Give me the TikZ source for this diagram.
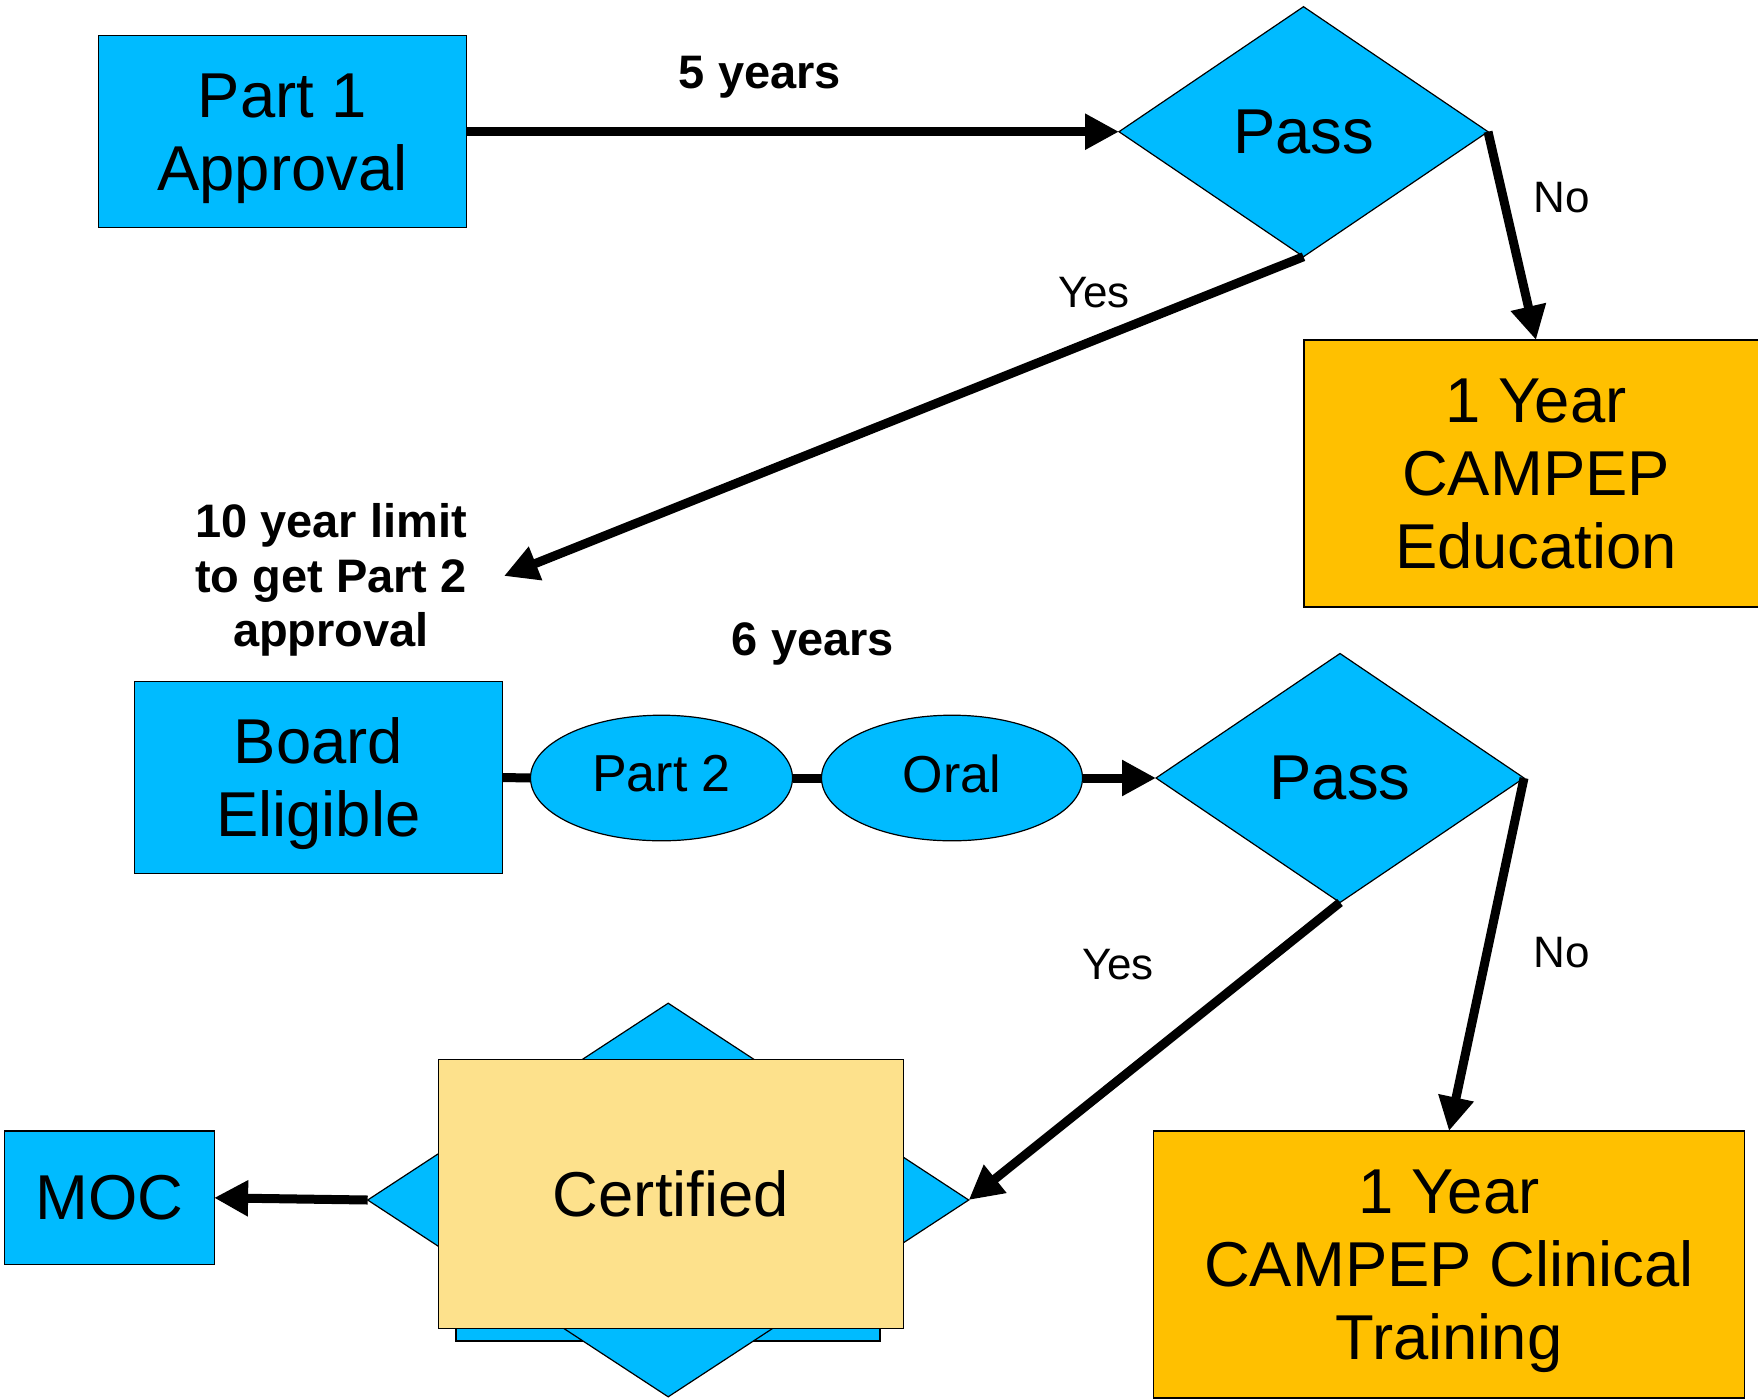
\documentclass[tikz,border=0pt]{standalone}
\usepackage{fontspec}
\setmainfont{Liberation Sans}
\usetikzlibrary{shapes.geometric,arrows.meta}
\definecolor{boxblue}{RGB}{0,187,255}
\definecolor{boxorange}{RGB}{255,192,0}
\definecolor{boxcream}{RGB}{253,225,140}
\begin{document}
\begin{tikzpicture}[x=0.5pt,y=-0.5pt,
    box/.style={draw, line width=0.6pt, inner sep=0pt, outer sep=0pt, align=center,
        text depth=0pt, font=\fontsize{31.7}{36.5}\selectfont},
    bluebox/.style={box, fill=boxblue},
    orangebox/.style={box, fill=boxorange},
    decision/.style={box, diamond, fill=boxblue},
    exam/.style={box, ellipse, fill=boxblue, text depth=4.5pt, font=\fontsize{26}{30}\selectfont},
    note/.style={font=\fontsize{23.5}{27.2}\selectfont\bfseries, align=center, text depth=0pt},
    answer/.style={font=\fontsize{22}{26}\selectfont},
    flow/.style={line width=4.5pt, -{Triangle[length=17pt,width=17pt]}},
    link/.style={line width=4.5pt}]
    \useasboundingbox (0,0) rectangle (1758,1399);
    \node[bluebox, minimum width=183.9pt, minimum height=95.9pt] (part1) at (282.5,131.7) {Part 1\\Approval};
    \node[decision, minimum width=184.5pt, minimum height=125pt] (pass1) at (1303.5,131.7) {Pass};
    \node[orangebox, minimum width=232pt, minimum height=133.5pt] (campep1) at (1536,473.5) {1 Year\\CAMPEP\\Education};
    \node[bluebox, minimum width=183.9pt, minimum height=95.9pt] (board) at (318.4,777.5) {Board\\Eligible};
    \node[exam, minimum width=131pt, minimum height=62.8pt] (part2) at (661.5,778) {Part 2};
    \node[exam, minimum width=130.5pt, minimum height=62.8pt] (oral) at (952,778) {Oral};
    \node[decision, minimum width=184pt, minimum height=124.5pt] (pass2) at (1340,778) {Pass};
    \node[orangebox, minimum width=295.5pt, minimum height=133.5pt] (clinical) at (1449,1264.5) {1 Year\\CAMPEP Clinical\\Training};
    \node[bluebox, minimum width=212pt, minimum height=135.5pt] (certback) at (668,1205.5) {};
    \node[decision, minimum width=300.5pt, minimum height=196.8pt] (certdiamond) at (668.2,1200) {};
    \node[box, fill=boxcream, minimum width=232.6pt, minimum height=134.5pt] (certified) at (671,1194) {Certified};
    \node[bluebox, minimum width=104.8pt, minimum height=66.9pt] (moc) at (109.3,1197.8) {MOC};

    \node[note] (five) at (760,72) {5 years};
    \node[note] (six) at (813,639) {6 years};
    \node[note] (limit) at (331,575) {10 year limit\\to get Part 2\\approval};
    \coordinate (limittip) at (504,576);
    \node[answer] (yes1) at (1094,293) {Yes};
    \node[answer] (no1) at (1562,198) {No};
    \node[answer] (yes2) at (1118,965) {Yes};
    \node[answer] (no2) at (1562,953) {No};

    \draw[flow] (part1.east) -- (pass1.west);
    \draw[flow] (pass1.east) -- (campep1.north);
    \draw[flow] (pass1.south) -- (limittip);
    \draw[link] (board.east) -- (part2.west);
    \draw[link] (part2.east) -- (oral.west);
    \draw[flow] (oral.east) -- (pass2.west);
    \draw[flow] (pass2.east) -- (clinical.north);
    \draw[flow] (pass2.south) -- (certdiamond.east);
    \draw[flow] (certdiamond.west) -- (moc.east);
\end{tikzpicture}
\end{document}
